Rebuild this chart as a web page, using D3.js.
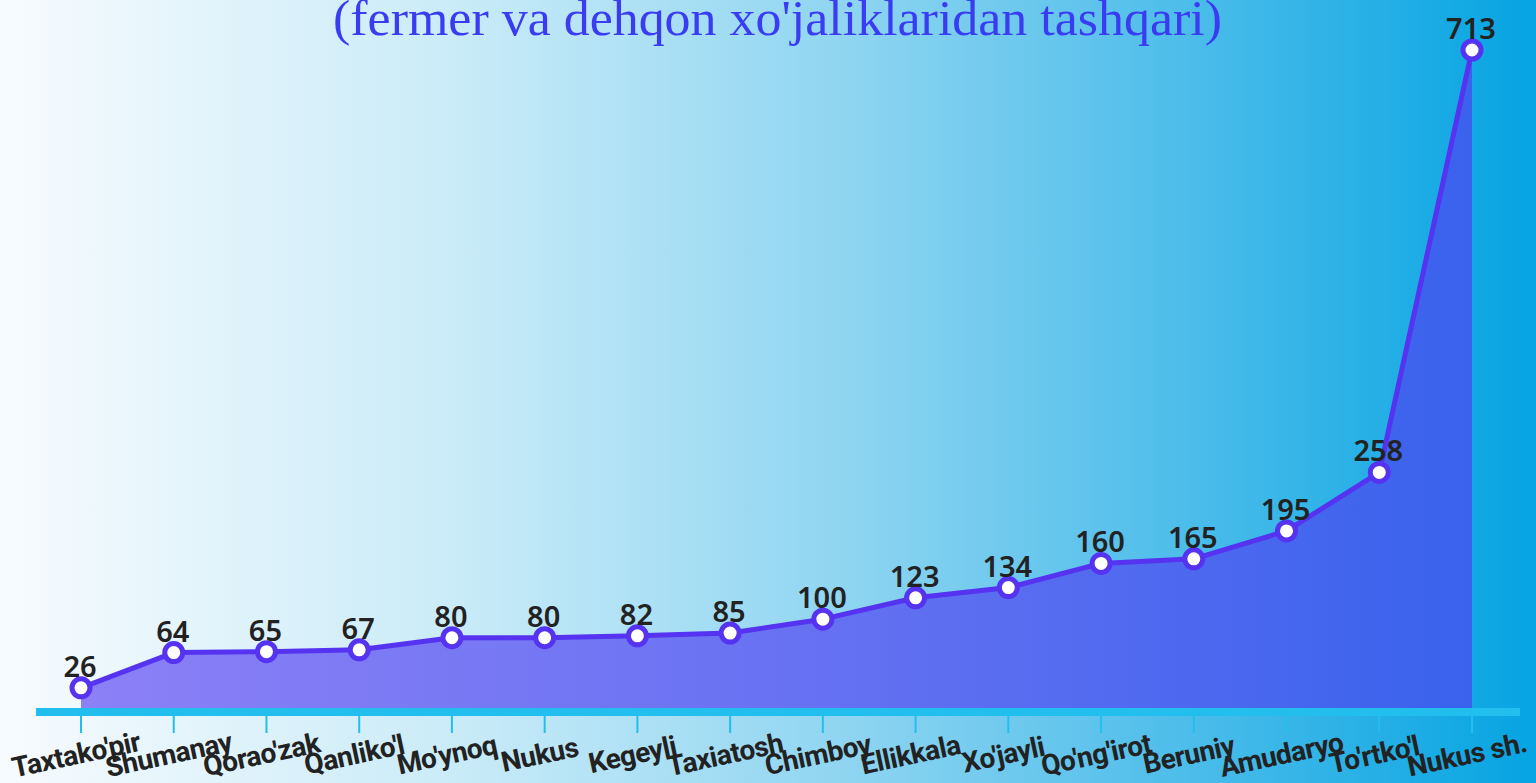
<!DOCTYPE html>
<meta charset="utf-8">
<style>
body { margin: 0; overflow: hidden; }
.title { font: 50px "Liberation Serif", "Times New Roman", serif; fill: #3a3cf2; }
.value { font: 600 29px "Noto Sans", sans-serif; fill: #222; text-anchor: middle; }
.cat { font: 700 28px Roboto, sans-serif; fill: #222; text-anchor: middle; letter-spacing: -0.5px; }
</style>
<svg width="1536" height="783"></svg>
<script src="https://d3js.org/d3.v7.min.js"></script>
<script>

var districts = ["Taxtako'pir", "Shumanay", "Qorao'zak", "Qanliko'l", "Mo'ynoq", "Nukus",
  "Kegeyli", "Taxiatosh", "Chimboy", "Ellikkala", "Xo'jayli", "Qo'ng'irot", "Beruniy",
  "Amudaryo", "To'rtko'l", "Nukus sh."];
var counts = [26, 64, 65, 67, 80, 80, 82, 85, 100, 123, 134, 160, 165, 195, 258, 713];

var svg = d3.select("svg"),
    W = 1536, H = 783;

var defs = svg.append("defs");

var bg = defs.append("linearGradient").attr("id", "bg");
[[0, "#f7fbfe"], [0.3, "#c9ebf8"], [0.55, "#8fd5f1"], [0.78, "#4abcea"], [1, "#05a4e2"]]
  .forEach(function(s) { bg.append("stop").attr("offset", s[0]).attr("stop-color", s[1]); });

var ag = defs.append("linearGradient").attr("id", "area");
[[0, "#8c80f6"], [0.5, "#6872f2"], [1, "#3a62ed"]]
  .forEach(function(s) { ag.append("stop").attr("offset", s[0]).attr("stop-color", s[1]); });

svg.append("rect").attr("width", W).attr("height", H).attr("fill", "url(#bg)");

var x = d3.scalePoint()
    .domain(districts)
    .range([81, 1472]);

var y = d3.scaleLinear()
    .domain([0, 713])
    .range([712, 50]);

var data = districts.map(function(d, i) { return {name: d, value: counts[i]}; });

// top line of the title sits above the visible area, only the subtitle shows
svg.append("text")
    .attr("class", "title")
    .attr("x", 333)
    .attr("y", 35)
    .attr("textLength", 889)
    .attr("lengthAdjust", "spacingAndGlyphs")
    .text("(fermer va dehqon xo'jaliklaridan tashqari)");

var area = d3.area()
    .x(function(d) { return x(d.name); })
    .y0(y(0))
    .y1(function(d) { return y(d.value); });

svg.append("path")
    .datum(data)
    .attr("d", area)
    .attr("fill", "url(#area)");

// axis
var axis = svg.append("g");
axis.append("rect")
    .attr("x", 36).attr("y", y(0) - 4)
    .attr("width", 1484).attr("height", 8)
    .attr("fill", "#22bfee");
axis.selectAll("line.tick")
    .data(districts)
  .enter().append("line")
    .attr("class", "tick")
    .attr("x1", function(d) { return x(d); })
    .attr("x2", function(d) { return x(d); })
    .attr("y1", y(0) + 4)
    .attr("y2", y(0) + 21)
    .attr("stroke", "#22bfee")
    .attr("stroke-width", 2);

axis.selectAll("text.cat")
    .data(districts)
  .enter().append("text")
    .attr("class", "cat")
    .attr("transform", function(d) { return "translate(" + (x(d) - 3) + "," + 764 + ") rotate(-12)"; })
    .text(function(d) { return d; });

var line = d3.line()
    .x(function(d) { return x(d.name); })
    .y(function(d) { return y(d.value); });

svg.append("path")
    .datum(data)
    .attr("d", line)
    .attr("fill", "none")
    .attr("stroke", "#5533f0")
    .attr("stroke-width", 5)
    .attr("stroke-linejoin", "round");

svg.selectAll("circle.pt")
    .data(data)
  .enter().append("circle")
    .attr("class", "pt")
    .attr("cx", function(d) { return x(d.name); })
    .attr("cy", function(d) { return y(d.value); })
    .attr("r", 9)
    .attr("fill", "#fff")
    .attr("stroke", "#5533f0")
    .attr("stroke-width", 5);

svg.selectAll("text.value")
    .data(data)
  .enter().append("text")
    .attr("class", "value")
    .attr("x", function(d) { return x(d.name) - 1; })
    .attr("y", function(d) { return y(d.value) - 11; })
    .text(function(d) { return d.value; });

</script>
